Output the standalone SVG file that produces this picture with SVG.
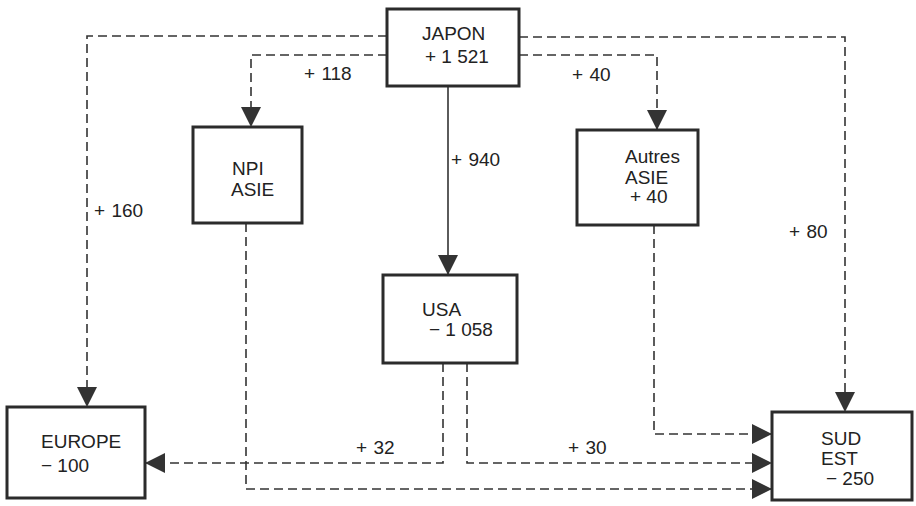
<svg xmlns="http://www.w3.org/2000/svg" width="916" height="506" viewBox="0 0 916 506">
<style>
.box{fill:#fff;stroke:#2b2b2b;stroke-width:3}
.t{font-family:"Liberation Sans",Arial,sans-serif;font-size:19px;fill:#222}
.d{fill:none;stroke:#333;stroke-width:1.6;stroke-dasharray:9 5}
.s{fill:none;stroke:#333;stroke-width:1.6}
</style>
<defs>
<marker id="ah" viewBox="0 0 20 20" markerWidth="20" markerHeight="20" markerUnits="userSpaceOnUse" refX="20" refY="10" orient="auto">
<path d="M0,0 L20,10 L0,20 z" fill="#333"/>
</marker>
</defs>
<rect width="916" height="506" fill="#fff"/>
<g id="connectors">
<path class="d" d="M387,36 H87 V407" marker-end="url(#ah)"/>
<path class="d" d="M387,55 H251 V127" marker-end="url(#ah)"/>
<path class="s" d="M448,86 V275" marker-end="url(#ah)"/>
<path class="d" d="M519,55 H657 V130" marker-end="url(#ah)"/>
<path class="d" d="M519,37 H845 V412" marker-end="url(#ah)"/>
<path class="d" d="M246,223 V489 H772" marker-end="url(#ah)"/>
<path class="d" d="M443,363 V463 H145" marker-end="url(#ah)"/>
<path class="d" d="M467,363 V463 H772" marker-end="url(#ah)"/>
<path class="d" d="M654,225 V434 H772" marker-end="url(#ah)"/>
<text class="t" x="304" y="80">+ <tspan dx="1">118</tspan></text>
<text class="t" x="572" y="81">+ <tspan dx="1">40</tspan></text>
<text class="t" x="451" y="166">+ <tspan dx="1">940</tspan></text>
<text class="t" x="94" y="217">+ <tspan dx="1">160</tspan></text>
<text class="t" x="789" y="238">+ <tspan dx="1">80</tspan></text>
<text class="t" x="356" y="454">+ <tspan dx="1">32</tspan></text>
<text class="t" x="568" y="454">+ <tspan dx="1">30</tspan></text>
</g>
<g id="japon">
<rect class="box" x="387" y="9" width="132" height="77"/>
<text class="t" x="422" y="40">JAPON</text>
<text class="t" x="425" y="63">+ 1 521</text>
</g>
<g id="npi">
<rect class="box" x="193" y="127" width="109" height="96"/>
<text class="t" x="232" y="175">NPI</text>
<text class="t" x="231" y="196">ASIE</text>
</g>
<g id="autres">
<rect class="box" x="577" y="130" width="121" height="95"/>
<text class="t" x="625" y="163">Autres</text>
<text class="t" x="625" y="184">ASIE</text>
<text class="t" x="630" y="203">+ 40</text>
</g>
<g id="usa">
<rect class="box" x="383" y="275" width="134" height="88"/>
<text class="t" x="422" y="316">USA</text>
<text class="t" x="429" y="336">− 1 058</text>
</g>
<g id="europe">
<rect class="box" x="7" y="407" width="138" height="91"/>
<text class="t" x="41" y="448">EUROPE</text>
<text class="t" x="41" y="472">− 100</text>
</g>
<g id="sudest">
<rect class="box" x="772" y="412" width="140" height="88"/>
<text class="t" x="821" y="445">SUD</text>
<text class="t" x="821" y="465">EST</text>
<text class="t" x="826" y="485">− 250</text>
</g>
</svg>
